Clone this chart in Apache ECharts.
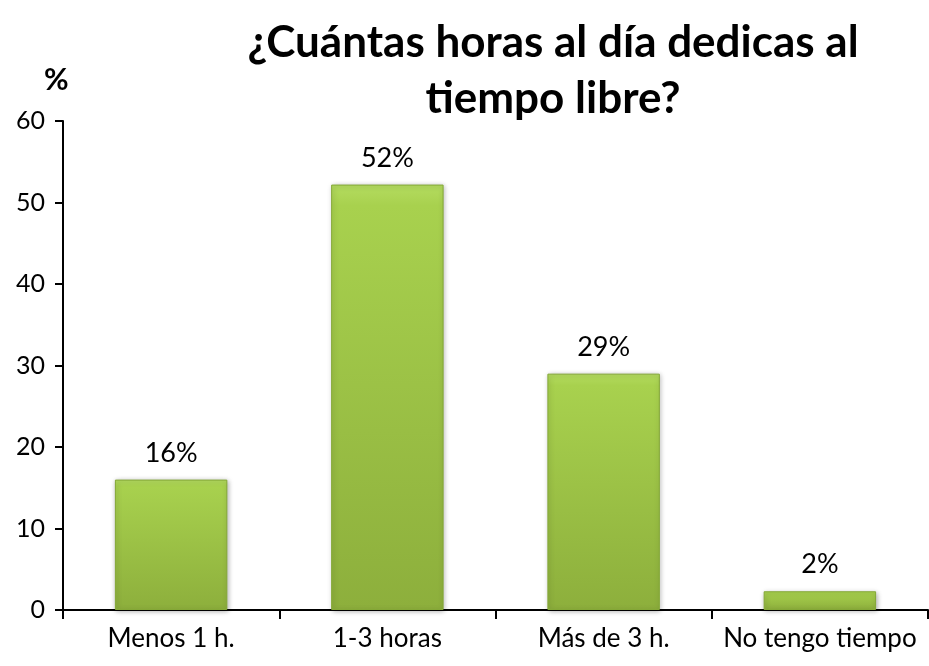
<!DOCTYPE html>
<html><head><meta charset="utf-8">
<script src="https://cdn.jsdelivr.net/npm/echarts@6/dist/echarts.min.js"></script>
<style>html,body{margin:0;padding:0;background:#fff}#c{width:929px;height:666px}</style>
</head><body><div id="c"></div>
<script>
var categories = ['Menos 1 h.', '1-3 horas', 'Más de 3 h.', 'No tengo tiempo'];
var values = [16, 52.2, 29, 2.3];
var yTicks = {min: 0, max: 60, interval: 10};
var titleText = '¿Cuántas horas al día dedicas al\ntiempo libre?';
var FONT = 'Lato';
var chart = echarts.init(document.getElementById('c'));
chart.setOption({
  animation: false,
  textStyle: {fontFamily: FONT},
  title: [{
    text: titleText, left: 548, top: 10, textAlign: 'center',
    textStyle: {fontFamily: FONT, fontSize: 44, fontWeight: 'bold', color: '#000', lineHeight: 56}
  }, {
    text: '%', left: 39, top: 60,
    textStyle: {fontFamily: FONT, fontSize: 30, fontWeight: 'bold', color: '#000'}
  }],
  grid: {left: 63, right: 1, top: 121, bottom: 56},
  xAxis: {
    type: 'category', data: categories,
    axisLine: {lineStyle: {color: '#000', width: 2}},
    axisTick: {show: true, interval: 0, length: 9, lineStyle: {color: '#000', width: 2}},
    axisLabel: {interval: 0, hideOverlap: false, fontFamily: FONT, fontSize: 26, color: '#000', margin: 16}
  },
  yAxis: {
    type: 'value', min: yTicks.min, max: yTicks.max, interval: yTicks.interval,
    splitLine: {show: false},
    axisLine: {show: true, lineStyle: {color: '#000', width: 2}},
    axisTick: {show: true, length: 8, lineStyle: {color: '#000', width: 2}},
    axisLabel: {fontFamily: FONT, fontSize: 25, color: '#000', margin: 18}
  },
  series: [{
    type: 'bar', data: values, barWidth: '52%',
    itemStyle: {
      color: new echarts.graphic.LinearGradient(0, 0, 0, 1, [
        {offset: 0, color: '#b4dc60'},
        {offset: 0.05, color: '#a8d14e'},
        {offset: 1, color: '#8daf3c'}
      ]),
      borderColor: '#84a836', borderWidth: 1,
      shadowColor: 'rgba(0,0,0,0.3)', shadowBlur: 5, shadowOffsetX: 1, shadowOffsetY: 1
    },
    label: {
      show: true, position: 'top', distance: 13,
      fontFamily: FONT, fontSize: 27, color: '#000',
      formatter: function (p) { return Math.round(p.value) + '%'; }
    }
  }]
});
</script></body></html>
